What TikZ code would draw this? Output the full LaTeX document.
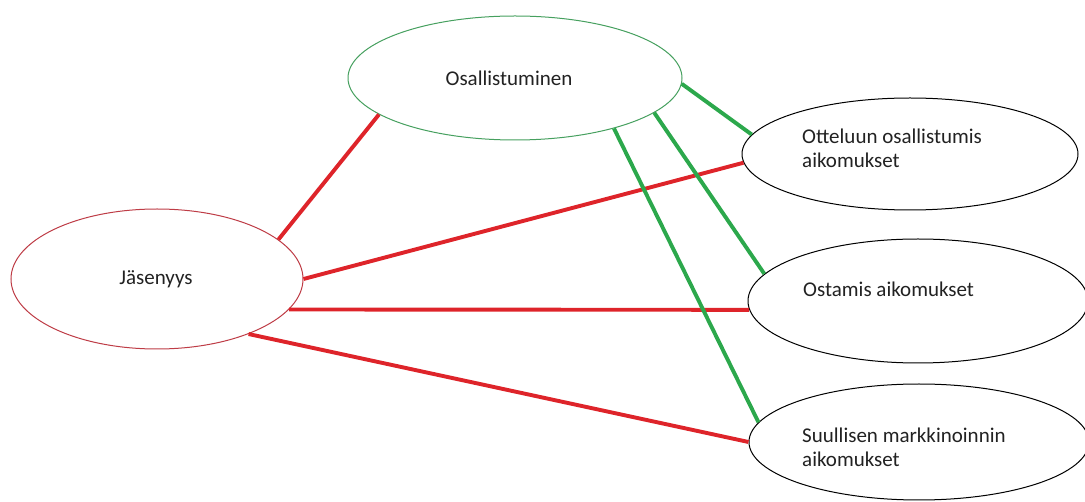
\documentclass[tikz,border=0pt]{standalone}
\usepackage{fontspec}
\setmainfont{Carlito}
\usetikzlibrary{shapes.geometric}
\definecolor{redline}{RGB}{222,36,42}
\definecolor{greenline}{RGB}{44,168,76}
\definecolor{greenedge}{RGB}{70,160,95}
\definecolor{rededge}{RGB}{190,60,70}
\definecolor{txt}{RGB}{34,34,34}
\tikzset{
  oval/.style={ellipse, draw, line width=1pt, fill=white, inner sep=0pt},
  lbl/.style={font=\fontsize{21}{24.5}\selectfont, text=txt, inner sep=0pt, align=left},
  redlink/.style={draw=redline, line width=3.9pt},
  greenlink/.style={draw=greenline, line width=3.9pt}
}
\begin{document}
\begin{tikzpicture}[x=1pt, y={(0pt,-1pt)}]
\useasboundingbox (0,0) rectangle (1085,502);
% ellipses
\node[oval, draw=greenedge, minimum width=334pt, minimum height=124pt] (osa) at (515,78) {};
\node[oval, draw=rededge, minimum width=292pt, minimum height=140pt] (jas) at (157,279) {};
\node[oval, draw=black, minimum width=336pt, minimum height=112pt] (ott) at (910,154) {};
\node[oval, draw=black, minimum width=340pt, minimum height=124pt] (ost) at (918,301) {};
\node[oval, draw=black, minimum width=340pt, minimum height=116pt] (suu) at (919,442) {};
% labels
\node[lbl, anchor=base] (tosa) at (509,86) {Osallistuminen};
\node[lbl, anchor=base] (tjas) at (156,285) {Jäsenyys};
\node[lbl, anchor=base west] (tott) at (802,168) {Otteluun osallistumis\\aikomukset};
\node[lbl, anchor=base west] (tost) at (803,297) {Ostamis aikomukset};
\node[lbl, anchor=base west] (tsuu) at (802,467) {Suullisen markkinoinnin\\aikomukset};
% connectors
\draw[redlink] (jas.18) -- (osa.195);
\draw[redlink] (jas.0.8) -- (ott.183);
\draw[redlink] (jas.-13.3) -- (ost.183.4);
\draw[redlink] (jas.-31.1) -- (suu.180.7);
\draw[greenlink] (osa.-2.4) -- (ott.173.1);
\draw[greenlink] (osa.-14.4) -- (ost.170.5);
\draw[greenlink] (osa.-27.9) -- (suu.173.5);
\end{tikzpicture}
\end{document}
